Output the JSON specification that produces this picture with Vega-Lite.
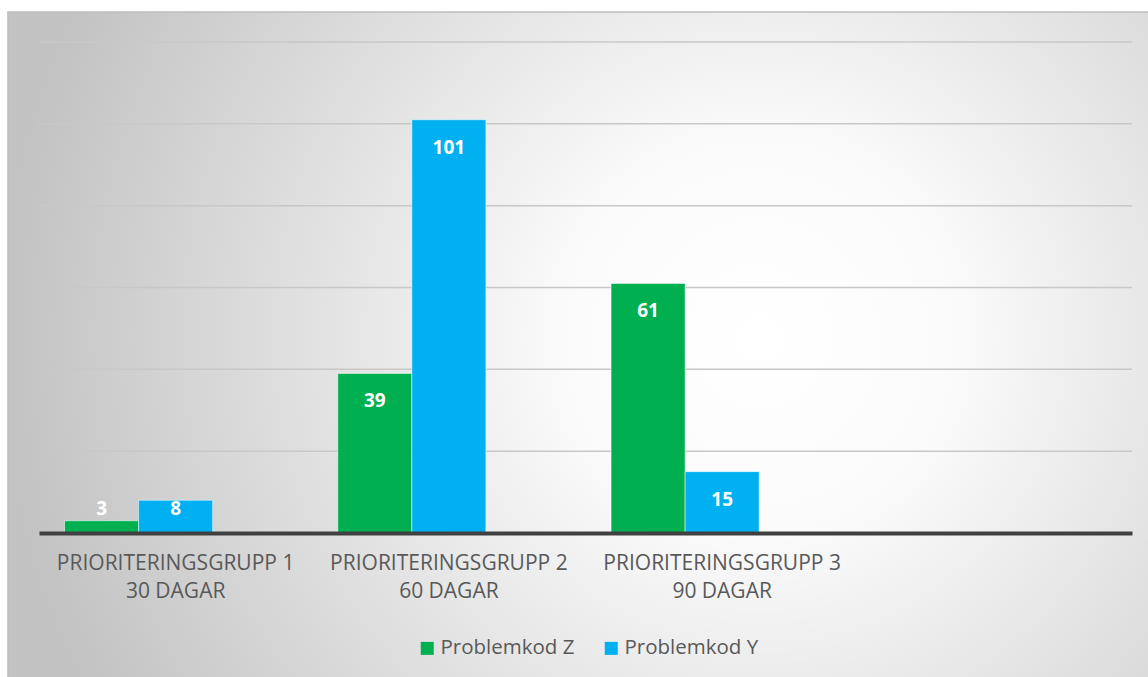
{
  "$schema": "https://vega.github.io/schema/vega-lite/v6.json",
  "width": 1093,
  "height": 491,
  "autosize": {"type": "none"},
  "padding": {"left": 39, "top": 42, "right": 16, "bottom": 144},
  "background": "#ffffff",
  "config": {"view": {"stroke": null}, "font": "Open Sans"},
  "datasets": {
    "bars": [
      {"grupp": "PRIORITERINGSGRUPP 1|30 DAGAR", "serie": "Problemkod Z", "antal": 3},
      {"grupp": "PRIORITERINGSGRUPP 1|30 DAGAR", "serie": "Problemkod Y", "antal": 8},
      {"grupp": "PRIORITERINGSGRUPP 2|60 DAGAR", "serie": "Problemkod Z", "antal": 39},
      {"grupp": "PRIORITERINGSGRUPP 2|60 DAGAR", "serie": "Problemkod Y", "antal": 101},
      {"grupp": "PRIORITERINGSGRUPP 3|90 DAGAR", "serie": "Problemkod Z", "antal": 61},
      {"grupp": "PRIORITERINGSGRUPP 3|90 DAGAR", "serie": "Problemkod Y", "antal": 15}
    ],
    "grid": [{"g": 20}, {"g": 40}, {"g": 60}, {"g": 80}, {"g": 100}, {"g": 120}]
  },
  "layer": [
    {
      "data": {"values": [{}]},
      "mark": {
        "type": "rect",
        "clip": false,
        "fill": {
          "gradient": "radial",
          "x1": 0.65, "y1": 0.49, "r1": 0,
          "x2": 0.65, "y2": 0.49, "r2": 0.66,
          "stops": [
            {"offset": 0, "color": "#ffffff"},
            {"offset": 0.25, "color": "#fbfbfb"},
            {"offset": 1, "color": "#c2c2c2"}
          ]
        },
        "stroke": "#bdbdbd",
        "strokeWidth": 1.5
      },
      "encoding": {
        "x": {"datum": -0.0284, "type": "quantitative", "scale": {"domain": [0, 1]}, "axis": null},
        "x2": {"datum": 1.03},
        "y": {"datum": 127.33, "type": "quantitative", "scale": {"domain": [0, 120], "nice": false}, "axis": null},
        "y2": {"datum": -37}
      }
    },
    {
      "data": {"name": "grid"},
      "mark": {"type": "rule", "color": "#c8c8c8", "strokeWidth": 1.5},
      "encoding": {
        "y": {"field": "g", "type": "quantitative", "axis": null}
      }
    },
    {
      "data": {"name": "bars"},
      "encoding": {
        "x": {
          "field": "grupp",
          "type": "nominal",
          "sort": null,
          "scale": {
            "domain": ["PRIORITERINGSGRUPP 1|30 DAGAR", "PRIORITERINGSGRUPP 2|60 DAGAR", "PRIORITERINGSGRUPP 3|90 DAGAR", "-"],
            "paddingInner": 0,
            "paddingOuter": 0
          },
          "axis": {
            "title": null,
            "labelExpr": "datum.label == '-' ? '' : split(datum.label, '|')",
            "labelFont": "Open Sans",
            "labelFontSize": 21,
            "labelColor": "#595959",
            "labelLineHeight": 28,
            "labelPadding": 19,
            "labelLimit": 0,
            "labelOverlap": false,
            "labelAngle": 0,
            "ticks": false,
            "grid": false,
            "domainColor": "#404040",
            "domainWidth": 4,
            "zindex": 1
          }
        },
        "xOffset": {
          "field": "serie",
          "type": "nominal",
          "scale": {"domain": ["Problemkod Z", "Problemkod Y", "-"], "paddingInner": 0, "paddingOuter": 0.345}
        }
      },
      "layer": [
        {
          "mark": {"type": "bar", "stroke": "#ffffff", "strokeOpacity": 0.5, "strokeWidth": 1},
          "encoding": {
            "y": {"field": "antal", "type": "quantitative", "axis": null},
            "color": {
              "field": "serie",
              "type": "nominal",
              "scale": {"domain": ["Problemkod Z", "Problemkod Y"], "range": ["#00B050", "#00B0F0"]},
              "legend": {
                "title": null,
                "orient": "none",
                "legendX": 378,
                "legendY": 596,
                "padding": 0,
                "direction": "horizontal",
                "symbolType": "square",
                "symbolSize": 169,
                "symbolStrokeWidth": 0,
                "labelFont": "Open Sans",
                "labelFontSize": 20.5,
                "labelColor": "#595959",
                "labelOffset": 3,
                "columnPadding": 26
              }
            }
          }
        },
        {
          "transform": [{"calculate": "max(datum.antal, 12.7)", "as": "pos"}],
          "mark": {"type": "text", "color": "#ffffff", "fontWeight": "bold", "fontSize": 19, "font": "Open Sans", "dy": 28, "baseline": "middle"},
          "encoding": {
            "y": {"field": "pos", "type": "quantitative", "axis": null},
            "text": {"field": "antal", "type": "quantitative"}
          }
        }
      ]
    }
  ],
  "resolve": {"scale": {"x": "independent"}}
}
